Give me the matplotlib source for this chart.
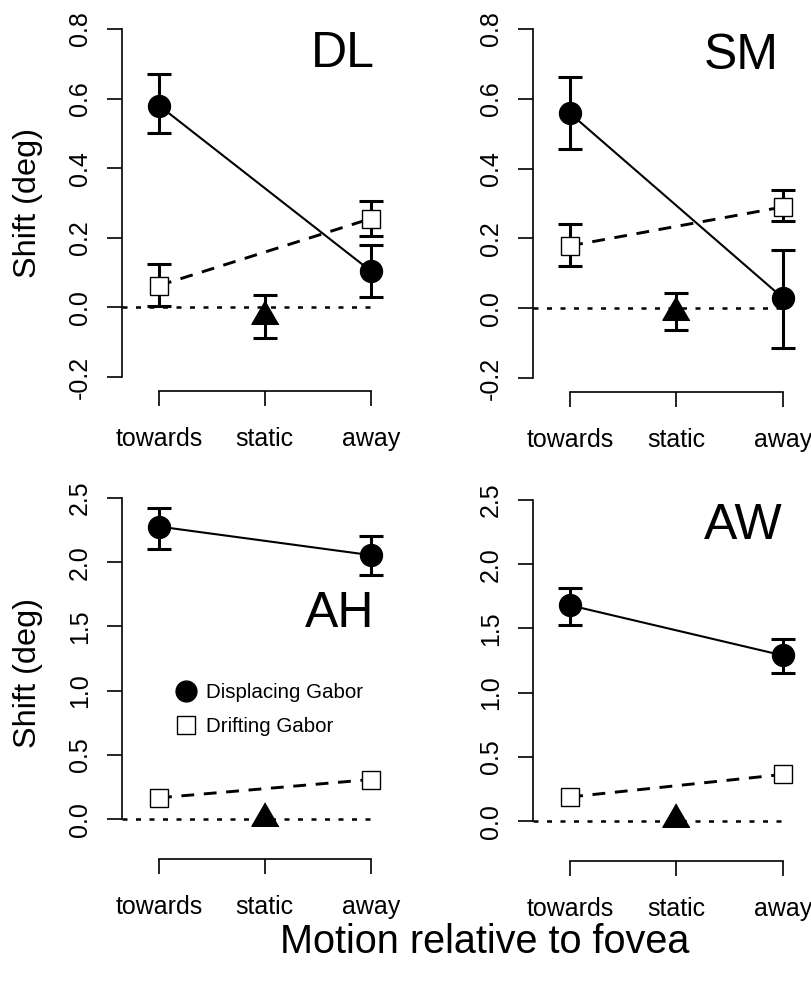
import matplotlib
matplotlib.use("Agg")
import matplotlib.pyplot as plt
from matplotlib.lines import Line2D

plt.rcParams['font.family'] = ['Liberation Sans', 'DejaVu Sans']

W, H = 812, 985

# ---- data ----
conditions = ["towards", "static", "away"]
x_moving = [1, 3]
x_static = [2]

panels = ["DL", "SM", "AH", "AW"]

disp_DL = [0.58, 0.105]
disp_lo_DL = [0.50, 0.03]
disp_hi_DL = [0.67, 0.18]
drift_DL = [0.063, 0.255]
drift_lo_DL = [0.005, 0.204]
drift_hi_DL = [0.124, 0.307]
static_DL = [-0.025]
static_lo_DL = [-0.087]
static_hi_DL = [0.037]

disp_SM = [0.558, 0.030]
disp_lo_SM = [0.455, -0.113]
disp_hi_SM = [0.662, 0.168]
drift_SM = [0.179, 0.29]
drift_lo_SM = [0.122, 0.249]
drift_hi_SM = [0.241, 0.340]
static_SM = [-0.01]
static_lo_SM = [-0.061]
static_hi_SM = [0.043]

disp_AH = [2.277, 2.055]
disp_lo_AH = [2.10, 1.90]
disp_hi_AH = [2.42, 2.205]
drift_AH = [0.168, 0.31]
static_AH = [0.013]

disp_AW = [1.68, 1.291]
disp_lo_AW = [1.524, 1.157]
disp_hi_AW = [1.817, 1.42]
drift_AW = [0.19, 0.365]
static_AW = [0.015]

yticks_top = [-0.2, 0.0, 0.2, 0.4, 0.6, 0.8]
yticklabels_top = ["-0.2", "0.0", "0.2", "0.4", "0.6", "0.8"]
yticks_bot = [0.0, 0.5, 1.0, 1.5, 2.0, 2.5]
yticklabels_bot = ["0.0", "0.5", "1.0", "1.5", "2.0", "2.5"]

legend_labels = ["Displacing Gabor", "Drifting Gabor"]

# ---- figure ----
fig = plt.figure(figsize=(W / 100, H / 100), dpi=100)


def rect(l, r, t, b):
    return [l / W, 1 - b / H, (r - l) / W, (b - t) / H]


TRI = [(0, 1), (-0.866, -0.5), (0.866, -0.5)]
PX = 0.72  # points per pixel


def errs(vals, lo, hi):
    return [[v - a for v, a in zip(vals, lo)], [b - v for v, b in zip(vals, hi)]]


def panel(r, ylim, yticks, yticklabels, disp, disp_lo, disp_hi, drift, drift_lo, drift_hi,
          stat, stat_lo, stat_hi):
    ax = fig.add_axes(rect(*r))
    ax.set_xlim(0.65, 3.06)
    ax.set_ylim(*ylim)
    for s in ["top", "right"]:
        ax.spines[s].set_visible(False)
    ax.spines["left"].set_bounds(yticks[0], yticks[-1])
    ax.spines["bottom"].set_bounds(1, 3)
    for s in ["left", "bottom"]:
        ax.spines[s].set_linewidth(1.2)
    ax.set_yticks(yticks)
    ax.set_yticklabels(yticklabels, rotation=90, va="center")
    ax.set_xticks([1, 2, 3])
    ax.set_xticklabels(conditions)
    ax.tick_params(axis="both", length=15 * PX, width=1.2, labelsize=18)
    ax.tick_params(axis="y", pad=11)
    ax.tick_params(axis="x", pad=15)

    # zero line
    ax.axhline(0, color="black", lw=1.8, dashes=(2.0, 3.4), dash_capstyle="butt", zorder=1)

    eb_kw = dict(fmt="none", ecolor="black", elinewidth=2.2, capsize=8.3, capthick=2.2,
                 clip_on=False, zorder=3)
    # displacing
    ax.plot(x_moving, disp, color="black", lw=1.5, zorder=2, clip_on=False)
    ax.errorbar(x_moving, disp, yerr=errs(disp, disp_lo, disp_hi), **eb_kw)
    ax.plot(x_moving, disp, "o", color="black", ms=15.8, zorder=5, clip_on=False)
    # drifting
    ax.plot(x_moving, drift, color="black", lw=2.1, dashes=(4.4, 3.3), zorder=2, clip_on=False)
    if drift_lo is not None:
        ax.errorbar(x_moving, drift, yerr=errs(drift, drift_lo, drift_hi), **eb_kw)
    ax.plot(x_moving, drift, "s", mfc="white", mec="black", mew=1.0, ms=13, zorder=5,
            clip_on=False)
    # static
    if stat_lo is not None:
        ax.errorbar(x_static, stat, yerr=errs(stat, stat_lo, stat_hi), **eb_kw)
    ax.plot(x_static, stat, marker=TRI, color="black", ms=22.5, ls="none", zorder=5,
            clip_on=False)
    return ax


ax1 = panel((122, 377, 15, 391), (-0.24, 0.84), yticks_top, yticklabels_top,
            disp_DL, disp_lo_DL, disp_hi_DL, drift_DL, drift_lo_DL, drift_hi_DL,
            static_DL, static_lo_DL, static_hi_DL)
ax2 = panel((533, 789, 15, 392), (-0.24, 0.84), yticks_top, yticklabels_top,
            disp_SM, disp_lo_SM, disp_hi_SM, drift_SM, drift_lo_SM, drift_hi_SM,
            static_SM, static_lo_SM, static_hi_SM)
ax3 = panel((122, 377, 484, 859), (-0.308, 2.608), yticks_bot, yticklabels_bot,
            disp_AH, disp_lo_AH, disp_hi_AH, drift_AH, None, None,
            static_AH, None, None)
ax4 = panel((533, 789, 486, 861), (-0.308, 2.608), yticks_bot, yticklabels_bot,
            disp_AW, disp_lo_AW, disp_hi_AW, drift_AW, None, None,
            static_AW, None, None)

# panel labels
for lab, (cx, by) in zip(panels, [(343, 67), (741, 69), (340, 627), (743, 539)]):
    fig.text(cx / W, 1 - by / H, lab, ha="center", va="baseline", fontsize=36)

# y labels
fig.text(28 / W, 1 - 203 / H, "Shift (deg)", rotation=90, ha="center", va="center", fontsize=23.4)
fig.text(28 / W, 1 - 673 / H, "Shift (deg)", rotation=90, ha="center", va="center", fontsize=23.4)

# x label
fig.text(485 / W, 1 - 942 / H, "Motion relative to fovea", ha="center", va="center", fontsize=28.5)

# legend
handles = [
    Line2D([], [], marker="o", color="black", ls="none", ms=15),
    Line2D([], [], marker="s", mfc="white", mec="black", mew=1.0, ls="none", ms=13),
]
ax3.legend(handles, legend_labels, loc="upper left", bbox_to_anchor=(176 / W, 1 - 683 / H),
           bbox_transform=fig.transFigure, frameon=False, fontsize=14.8, handlelength=1.0,
           handletextpad=0.45, labelspacing=0.72, borderpad=0, borderaxespad=0)

fig.savefig("out.png", dpi=100)
